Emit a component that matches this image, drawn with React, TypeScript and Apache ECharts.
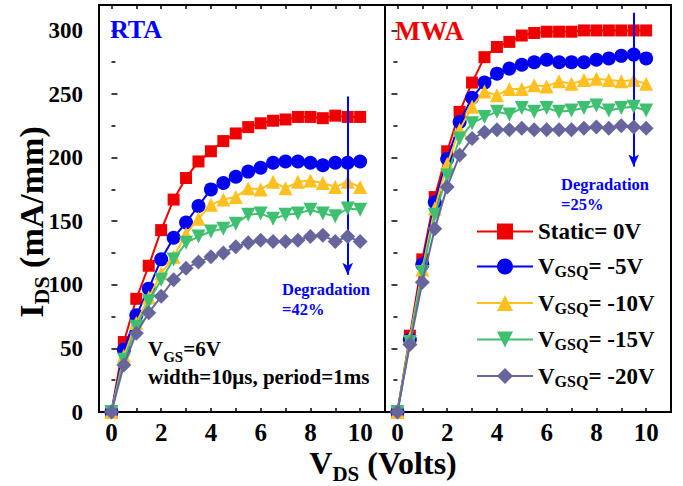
import React, { useEffect, useRef } from 'react';
import * as echarts from 'echarts';

// ---------- data ----------
const VDS = [0, 0.5, 1, 1.5, 2, 2.5, 3, 3.5, 4, 4.5, 5, 5.5, 6, 6.5, 7, 7.5, 8, 8.5, 9, 9.5, 10];

const RTA_STATIC = [0, 55, 89, 115, 143, 167, 184, 197, 205, 213, 219, 224, 227, 229, 230, 232, 232, 231, 233, 232, 232];
const RTA_M5 = [0, 49, 76, 97, 120, 137, 149, 162, 175, 180, 185, 189, 192, 196, 197, 197, 196, 194, 196, 196, 197];
const RTA_M10 = [0, 44, 70, 90, 109, 122, 140, 152, 163, 167, 169, 176, 175, 181, 176, 181, 182, 180, 177, 181, 177];
const RTA_M15 = [0, 41, 67, 87, 104, 120, 133, 138, 142, 144, 148, 155, 156, 152, 155, 156, 159, 156, 154, 160, 159];
const RTA_M20 = [0, 37, 62, 78, 91, 104, 113, 118, 122, 125, 130, 133, 135, 134, 134, 135, 138, 139, 134, 138, 134];

const MWA_STATIC = [0, 60, 120, 169, 205, 236, 259, 279, 287, 291, 296, 298, 299, 299, 299, 300, 300, 300, 300, 300, 300];
const MWA_M5 = [0, 57, 116, 165, 199, 228, 247, 259, 266, 270, 273, 275, 277, 275, 275, 275, 277, 278, 280, 281, 278];
const MWA_M10 = [0, 58, 112, 160, 195, 222, 240, 252, 249, 254, 254, 257, 256, 260, 258, 261, 262, 261, 260, 261, 258];
const MWA_M15 = [0, 55, 110, 155, 186, 215, 227, 232, 236, 234, 239, 236, 239, 236, 237, 239, 241, 237, 239, 240, 237];
const MWA_M20 = [0, 53, 102, 144, 177, 202, 215, 220, 222, 222, 223, 222, 222, 222, 222, 223, 224, 223, 225, 224, 223];

const SERIES_NAMES = ['Static= 0V', 'VGSQ= -5V', 'VGSQ= -10V', 'VGSQ= -15V', 'VGSQ= -20V'];
const X_TICKS = [0, 1, 2, 3, 4, 5, 6, 7, 8, 9, 10];
const X_LABELS = [0, 2, 4, 6, 8, 10];

// arrow annotations (x, yStart, yEnd)
const RTA_ARROW = [9.5, 248, 108];
const MWA_ARROW = [9.5, 314, 193];

const COLORS = ['#ee0000', '#0000f0', '#ffc020', '#3ec070', '#66669c'];
const SYMBOLS = ['rect', 'circle', 'triangle', 'triangle', 'diamond'];
const SYMBOL_ROT = [0, 0, 0, 180, 0];
const SYMBOL_SIZE = [12, 14, 14, 14, 15];

const FONT = 'Liberation Serif';

export default function App() {
  const ref = useRef<HTMLDivElement>(null);

  useEffect(() => {
    if (!ref.current) return;
    const chart = echarts.init(ref.current, null, { renderer: 'svg' });

    const rta = [RTA_STATIC, RTA_M5, RTA_M10, RTA_M15, RTA_M20];
    const mwa = [MWA_STATIC, MWA_M5, MWA_M10, MWA_M15, MWA_M20];

    const mkSeries = (vals: number[][], xi: number, yi: number, arrow: number[]) =>
      vals.map((v, i) => ({
        type: 'line',
        name: SERIES_NAMES[i],
        xAxisIndex: xi,
        yAxisIndex: yi,
        data: VDS.map((x, k) => [x, v[k]]),
        symbol: SYMBOLS[i],
        symbolRotate: SYMBOL_ROT[i],
        symbolSize: SYMBOL_SIZE[i],
        showAllSymbol: true,
        lineStyle: { color: COLORS[i], width: 2 },
        itemStyle: { color: COLORS[i] },
        z: 2 + i,
        markLine:
          i === 0
            ? {
                silent: true,
                symbol: ['none', 'arrow'],
                symbolSize: [8, 12],
                label: { show: false },
                lineStyle: { color: '#0000ff', width: 2, type: 'solid' },
                data: [[{ coord: [arrow[0], arrow[1]] }, { coord: [arrow[0], arrow[2]] }]],
              }
            : undefined,
      }));

    const tickStyle = { color: '#000', width: 1.5 };
    const xBottom = (g: number) => ({
      type: 'value',
      gridIndex: g,
      position: 'bottom',
      min: -0.5,
      max: 11,
      axisLine: { show: false },
      splitLine: { show: false },
      axisTick: { show: true, inside: true, length: 4, customValues: X_TICKS, lineStyle: tickStyle },
      axisLabel: {
        show: true,
        customValues: X_LABELS,
        margin: 8,
        color: '#000',
        fontFamily: FONT,
        fontWeight: 'bold',
        fontSize: 25,
      },
    });
    const xTop = (g: number) => ({
      type: 'value',
      gridIndex: g,
      position: 'top',
      min: -0.5,
      max: 11,
      axisLine: { show: false },
      splitLine: { show: false },
      axisTick: { show: true, inside: true, length: 4, customValues: X_TICKS, lineStyle: tickStyle },
      axisLabel: { show: false },
    });
    const yAx = (g: number, pos: string, labels: boolean) => ({
      type: 'value',
      gridIndex: g,
      position: pos,
      min: 0,
      max: 320,
      interval: 50,
      axisLine: { show: false },
      splitLine: { show: false },
      axisTick: { show: true, inside: true, length: 6, lineStyle: tickStyle },
      minorTick: { show: true, splitNumber: 2, length: 4, lineStyle: tickStyle },
      axisLabel: {
        show: labels,
        showMaxLabel: false,
        margin: 16,
        color: '#000',
        fontFamily: FONT,
        fontWeight: 'bold',
        fontSize: 23,
      },
    });

    const txt = (x: number, y: number, text: string, size: number, color: string, subSize: number, drop: number, extra: any = {}) => ({
      type: 'text',
      x,
      y,
      z: 100,
      ...extra,
      style: {
        text,
        fill: color,
        fontFamily: FONT,
        fontWeight: 'bold',
        fontSize: size,
        verticalAlign: 'middle',
        align: extra.align || 'left',
        rich: {
          a: { fontFamily: FONT, fontWeight: 'bold', fontSize: size, fill: color, lineHeight: size + drop },
          s: { fontFamily: FONT, fontWeight: 'bold', fontSize: subSize, fill: color, verticalAlign: 'bottom' },
        },
      },
    });

    const option: any = {
      animation: false,
      backgroundColor: '#fff',
      grid: [
        { left: 99, top: 5, width: 286, height: 407, show: true, borderColor: '#000', borderWidth: 2, backgroundColor: 'transparent' },
        { left: 385, top: 5, width: 286, height: 407, show: true, borderColor: '#000', borderWidth: 2, backgroundColor: 'transparent' },
      ],
      xAxis: [xBottom(0), xTop(0), xBottom(1), xTop(1)],
      yAxis: [yAx(0, 'left', true), yAx(1, 'right', false)],
      legend: {
        orient: 'vertical',
        left: 476,
        top: 220,
        padding: 0,
        itemGap: 12,
        itemWidth: 56,
        itemHeight: 20,
        data: SERIES_NAMES,
        formatter: (name: string) =>
          name.startsWith('Static') ? `{a|${name}}` : `{a|V}{s|GSQ}{a|${name.slice(4)}}`,
        textStyle: {
          color: '#000',
          fontFamily: FONT,
          fontWeight: 'bold',
          fontSize: 23,
          rich: {
            a: { fontFamily: FONT, fontWeight: 'bold', fontSize: 23, color: '#000', lineHeight: 26 },
            s: { fontFamily: FONT, fontWeight: 'bold', fontSize: 16, color: '#000', lineHeight: 4, verticalAlign: 'bottom' },
          },
        },
      },
      series: [...mkSeries(rta, 0, 0, RTA_ARROW), ...mkSeries(mwa, 2, 1, MWA_ARROW)],
      graphic: [
        txt(110, 29.5, 'RTA', 26, '#0000ff', 18, 4),
        txt(395, 31, 'MWA', 27, '#ee0000', 18, 4),
        txt(148, 348.5, '{a|V}{s|GS}{a|=6V}', 21, '#000', 15, 10),
        txt(148, 377, 'width=10μs, period=1ms', 21, '#000', 15, 0),
        txt(282, 289, 'Degradation', 16.5, '#0000ff', 12, 2),
        txt(282, 309, '=42%', 16.5, '#0000ff', 12, 2),
        txt(561, 184, 'Degradation', 16.5, '#0000ff', 12, 2),
        txt(561, 204, '=25%', 16.5, '#0000ff', 12, 2),
        txt(383, 463, '{a|V}{s|DS}{a| (Volts)}', 32, '#000', 21, 10, { align: 'center' }),
        txt(31, 222, '{a|I}{s|DS}{a| (mA/mm)}', 34, '#000', 22, 8, { align: 'center', rotation: Math.PI / 2 }),
      ],
    };

    chart.setOption(option);
    return () => chart.dispose();
  }, []);

  return <div ref={ref} style={{ position: 'fixed', left: 0, top: 0, width: 683, height: 486, background: '#fff' }} />;
}
